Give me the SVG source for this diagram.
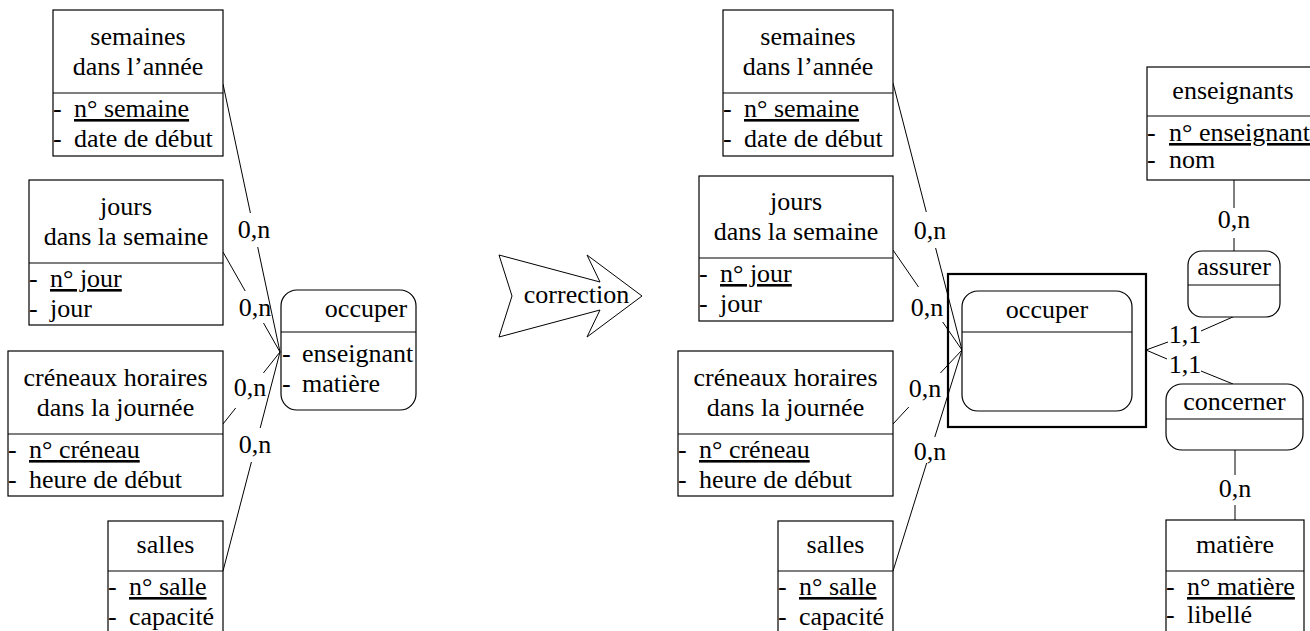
<svg xmlns="http://www.w3.org/2000/svg" width="1310" height="631" viewBox="0 0 1310 631" font-family="'Liberation Serif', 'Times New Roman', Times, serif" font-size="26">
  <style>
    text { font-family: "Liberation Serif", "Times New Roman", Times, serif; font-size: 26px; fill: #000; }
    .c { text-anchor: middle; }
    .u { text-decoration: underline; }
    .box { fill: #fff; stroke: #000; stroke-width: 1.2; }
    .div { stroke: #000; stroke-width: 1.2; }
    .frame { fill: none; stroke: #000; stroke-width: 2.2; }
    .link { fill: none; stroke: #000; stroke-width: 1; }
  </style>
  <rect width="1310" height="631" fill="#fff"/>

  <!-- ===== before correction ===== -->
  <g id="connectors-before">
    <path class="link" d="M223,84 L250.4,213 M257.7,247 L280,352"/>
    <path class="link" d="M223,252 L245.2,291 M263.5,323 L280,352"/>
    <path class="link" d="M223,424 L235.7,408 M263.4,373 L280,352"/>
    <path class="link" d="M223,571 L251.4,462 M260.2,428 L280,352"/>
    <text class="c" x="254" y="238">0,n</text>
    <text class="c" x="255" y="316">0,n</text>
    <text class="c" x="250" y="396">0,n</text>
    <text class="c" x="255" y="453">0,n</text>
  </g>

  <g id="semaines-before">
    <rect class="box" x="53" y="10" width="170" height="146"/>
    <line class="div" x1="53" y1="93" x2="223" y2="93"/>
    <text class="c" x="138" y="45">semaines</text>
    <text class="c" x="138" y="75">dans l’année</text>
    <text x="53" y="117">-</text><text class="u" x="74" y="117">n° semaine</text>
    <text x="53" y="147">-</text><text x="74" y="147">date de début</text>
  </g>

  <g id="jours-before">
    <rect class="box" x="29" y="180" width="194" height="145"/>
    <line class="div" x1="29" y1="263" x2="223" y2="263"/>
    <text class="c" x="126" y="215">jours</text>
    <text class="c" x="126" y="245">dans la semaine</text>
    <text x="29" y="287">-</text><text class="u" x="50" y="287">n° jour</text>
    <text x="29" y="317">-</text><text x="50" y="317">jour</text>
  </g>

  <g id="creneaux-before">
    <rect class="box" x="8" y="351" width="215" height="145"/>
    <line class="div" x1="8" y1="434" x2="223" y2="434"/>
    <text class="c" x="115.5" y="386">créneaux horaires</text>
    <text class="c" x="115.5" y="416">dans la journée</text>
    <text x="8" y="458">-</text><text class="u" x="29" y="458">n° créneau</text>
    <text x="8" y="488">-</text><text x="29" y="488">heure de début</text>
  </g>

  <g id="salles-before">
    <rect class="box" x="108" y="521" width="115" height="115"/>
    <line class="div" x1="108" y1="571" x2="223" y2="571"/>
    <text class="c" x="165.5" y="553">salles</text>
    <text x="108" y="595">-</text><text class="u" x="129" y="595">n° salle</text>
    <text x="108" y="625">-</text><text x="129" y="625">capacité</text>
  </g>

  <g id="occuper-before">
    <rect class="box" x="281" y="290" width="135" height="120" rx="16"/>
    <line class="div" x1="281" y1="332" x2="416" y2="332"/>
    <text class="c" x="366" y="317">occuper</text>
    <text x="282" y="362">-</text><text x="302" y="362">enseignant</text>
    <text x="282" y="392">-</text><text x="302" y="392">matière</text>
  </g>

  <!-- transition arrow -->
  <g id="correction">
    <polygon points="499,255 600,282 587,255 642,296 587,337 600,310 499,337 512,296" fill="#fff" stroke="#000" stroke-width="1"/>
    <text class="c" x="576.5" y="303">correction</text>
  </g>

  <!-- ===== after correction ===== -->
  <g id="connectors-after">
    <path class="link" d="M893,83 L926.3,212 M935.6,248 L962,350"/>
    <path class="link" d="M893,250 L918.5,287 M942.7,322 L962,350"/>
    <path class="link" d="M893,424 L908.8,407 M940.4,373 L962,350"/>
    <path class="link" d="M893,571 L926.7,463 M934.8,437 L962,350"/>
    <text class="c" x="930" y="239">0,n</text>
    <text class="c" x="927" y="316">0,n</text>
    <text class="c" x="925" y="397">0,n</text>
    <text class="c" x="930" y="460">0,n</text>
    <path class="link" d="M1146,350 L1168,342 M1201,331 L1235,316"/>
    <path class="link" d="M1146,350 L1167,359 M1201,371 L1233,384"/>
    <text class="c" x="1185" y="343">1,1</text>
    <text class="c" x="1185" y="373">1,1</text>
    <path class="link" d="M1234,180 L1234,208 M1234,238 L1234,251"/>
    <text class="c" x="1234" y="228">0,n</text>
    <path class="link" d="M1235,450 L1235,475 M1235,505 L1235,520"/>
    <text class="c" x="1235" y="497">0,n</text>
  </g>

  <g id="semaines-after">
    <rect class="box" x="723" y="10" width="170" height="146"/>
    <line class="div" x1="723" y1="93" x2="893" y2="93"/>
    <text class="c" x="808" y="45">semaines</text>
    <text class="c" x="808" y="75">dans l’année</text>
    <text x="723" y="117">-</text><text class="u" x="744" y="117">n° semaine</text>
    <text x="723" y="147">-</text><text x="744" y="147">date de début</text>
  </g>

  <g id="jours-after">
    <rect class="box" x="699" y="176" width="194" height="145"/>
    <line class="div" x1="699" y1="258" x2="893" y2="258"/>
    <text class="c" x="796" y="210">jours</text>
    <text class="c" x="796" y="240">dans la semaine</text>
    <text x="699" y="282">-</text><text class="u" x="720" y="282">n° jour</text>
    <text x="699" y="312">-</text><text x="720" y="312">jour</text>
  </g>

  <g id="creneaux-after">
    <rect class="box" x="678" y="351" width="215" height="145"/>
    <line class="div" x1="678" y1="434" x2="893" y2="434"/>
    <text class="c" x="785.5" y="386">créneaux horaires</text>
    <text class="c" x="785.5" y="416">dans la journée</text>
    <text x="678" y="458">-</text><text class="u" x="699" y="458">n° créneau</text>
    <text x="678" y="488">-</text><text x="699" y="488">heure de début</text>
  </g>

  <g id="salles-after">
    <rect class="box" x="778" y="521" width="115" height="115"/>
    <line class="div" x1="778" y1="571" x2="893" y2="571"/>
    <text class="c" x="835.5" y="553">salles</text>
    <text x="778" y="595">-</text><text class="u" x="799" y="595">n° salle</text>
    <text x="778" y="625">-</text><text x="799" y="625">capacité</text>
  </g>

  <g id="occuper-after">
    <rect class="frame" x="948" y="274" width="198" height="153"/>
    <rect class="box" x="962" y="291" width="170" height="120" rx="16"/>
    <line class="div" x1="962" y1="332" x2="1132" y2="332"/>
    <text class="c" x="1047" y="318">occuper</text>
  </g>

  <g id="enseignants">
    <rect class="box" x="1147" y="67" width="172" height="113"/>
    <line class="div" x1="1147" y1="116" x2="1319" y2="116"/>
    <text class="c" x="1233" y="99">enseignants</text>
    <text x="1147" y="141">-</text><text class="u" x="1169" y="141">n° enseignant</text>
    <text x="1147" y="168">-</text><text x="1169" y="168">nom</text>
  </g>

  <g id="assurer">
    <rect class="box" x="1188" y="251" width="92" height="66" rx="14"/>
    <line class="div" x1="1188" y1="285" x2="1280" y2="285"/>
    <text class="c" x="1234" y="275">assurer</text>
  </g>

  <g id="concerner">
    <rect class="box" x="1166" y="384" width="137" height="66" rx="16"/>
    <line class="div" x1="1166" y1="419" x2="1303" y2="419"/>
    <text class="c" x="1234.5" y="410">concerner</text>
  </g>

  <g id="matiere">
    <rect class="box" x="1166" y="520" width="138" height="116"/>
    <line class="div" x1="1166" y1="571" x2="1304" y2="571"/>
    <text class="c" x="1235" y="553">matière</text>
    <text x="1166" y="595">-</text><text class="u" x="1187" y="595">n° matière</text>
    <text x="1166" y="623">-</text><text x="1187" y="623">libellé</text>
  </g>
</svg>
